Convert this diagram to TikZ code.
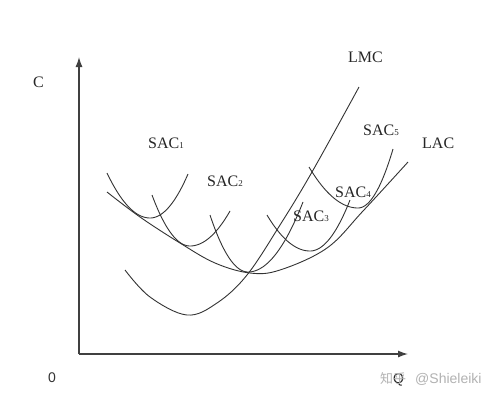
\documentclass[tikz,border=0pt]{standalone}
\usepackage{fontspec}
\setmainfont{Liberation Serif}
\newfontfamily\cjkfont{Noto Sans CJK SC}
\newfontfamily\wmsans{Liberation Sans}
\usetikzlibrary{arrows.meta}
\newcommand\subidx[1]{\raisebox{-0.02em}{\fontsize{9}{9}\selectfont #1}}
\begin{document}
\begin{tikzpicture}[x=1pt,y=-1pt,
  curve/.style={line width=0.9pt, draw=black!80},
  axis/.style={line width=1.3pt, draw=black!75, -{Latex[length=10pt,width=7pt]}},
  lbl/.style={inner sep=0pt, anchor=base west, font=\fontsize{16}{18}\selectfont, text=black!85},
  wm/.style={inner sep=0pt, anchor=base west, text=black!30}]
\useasboundingbox (0,0) rectangle (500,400);
\fill[white] (0,0) rectangle (500,400);
% axes
\coordinate (O) at (79,354);
\coordinate (Ytop) at (79,57);
\coordinate (Xend) at (408,354);
\draw[axis] (O) -- (Ytop);
\draw[axis] (O) -- (Xend);
% SAC curves (piecewise parabolas)
\draw[curve] plot[domain=107:150, samples=30] (\x,{218-0.02434*(\x-150)^2}) -- plot[domain=150:188, samples=30] (\x,{218-0.03047*(\x-150)^2});
\draw[curve] plot[domain=152:190, samples=30] (\x,{246-0.03532*(\x-190)^2}) -- plot[domain=190:230, samples=30] (\x,{246-0.02188*(\x-190)^2});
\draw[curve] plot[domain=210:248, samples=30] (\x,{272-0.03947*(\x-248)^2}) -- plot[domain=248:303, samples=30] (\x,{272-0.02314*(\x-248)^2});
\draw[curve] plot[domain=267:310, samples=30] (\x,{251-0.01947*(\x-310)^2}) -- plot[domain=310:350, samples=30] (\x,{251-0.031875*(\x-310)^2});
\draw[curve] plot[domain=309:358, samples=30] (\x,{208-0.01708*(\x-358)^2}) -- plot[domain=358:393, samples=30] (\x,{208-0.04816*(\x-358)^2});
% LAC
\draw[curve] plot[smooth, tension=0.6] coordinates {(107,192) (140,217) (180,243) (215,263) (250,273) (280,270) (327,248) (363,211) (408,162)};
% LMC
\draw[curve] plot[smooth, tension=0.6] coordinates {(125,270) (150,297) (187,315) (217,303) (247,275) (280,225) (312,172) (359,87)};
% labels
\node[lbl] (lC) at (33,87) {C};
\node[lbl] (lSAC1) at (148,148) {SAC\subidx{1}};
\node[lbl] (lSAC2) at (207,186) {SAC\subidx{2}};
\node[lbl] (lSAC3) at (293,221) {SAC\subidx{3}};
\node[lbl] (lSAC4) at (335,197) {SAC\subidx{4}};
\node[lbl] (lSAC5) at (363,135) {SAC\subidx{5}};
\node[lbl] (lLMC) at (348,62) {LMC};
\node[lbl] (lLAC) at (422,148) {LAC};
\node[inner sep=0pt, anchor=base west, font=\wmsans\fontsize{14}{16}\selectfont, text=black!80] (l0) at (48,382) {0};
\node[inner sep=0pt, anchor=base west, font=\wmsans\fontsize{14}{16}\selectfont, text=black!85] (lQ) at (393,383) {Q};
\node[wm, font=\cjkfont\fontsize{13}{15}\selectfont] (wm1) at (380,383) {知乎};
\node[wm, font=\wmsans\fontsize{14}{16}\selectfont] (wm2) at (415,383) {@Shieleiki};
\end{tikzpicture}
\end{document}
